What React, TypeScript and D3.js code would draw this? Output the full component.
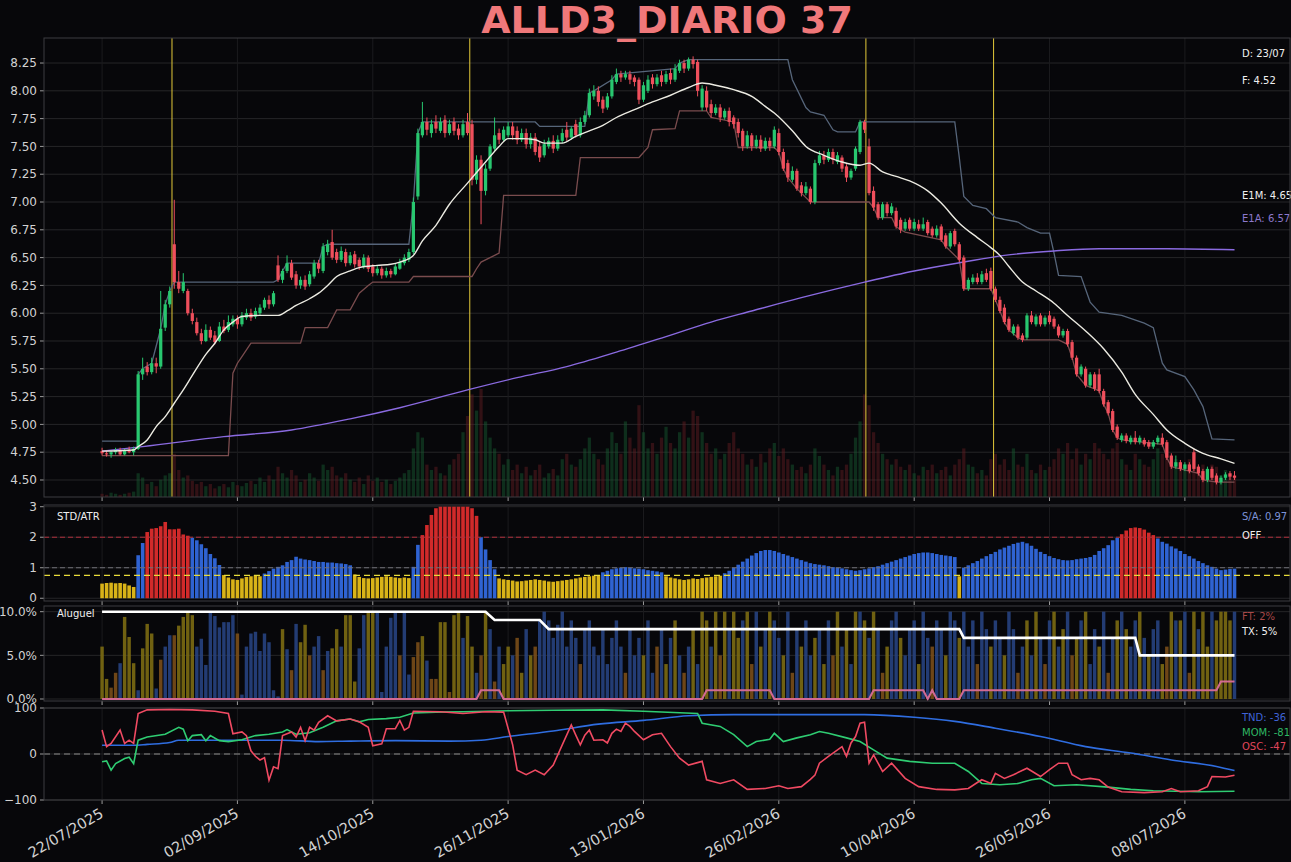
import React from "react";
import * as d3 from "d3";

const TITLE = "ALLD3_DIARIO 37";
const X_TICK_IDX = [0, 30, 60, 90, 120, 150, 180, 210, 240];
const X_TICK_LABELS = ["22/07/2025", "02/09/2025", "14/10/2025", "26/11/2025", "13/01/2026", "26/02/2026", "10/04/2026", "26/05/2026", "08/07/2026"];
const Y_MAIN_TICKS = [4.5, 4.75, 5.0, 5.25, 5.5, 5.75, 6.0, 6.25, 6.5, 6.75, 7.0, 7.25, 7.5, 7.75, 8.0, 8.25];
const Y_STD_TICKS = [0, 1, 2, 3];
const Y_ALU_TICKS = [0, 5, 10];
const Y_OSC_TICKS = [-100, 0, 100];

const OPEN = [
  4.76,4.74,4.73,4.75,4.77,4.73,4.76,4.75,4.78,5.45,
  5.52,5.47,5.55,5.52,5.87,6.08,6.62,6.28,6.20,6.20,
  6.00,5.92,5.82,5.75,5.85,5.80,5.75,5.88,5.85,5.90,
  5.95,5.90,5.96,6.00,5.97,6.00,6.05,6.12,6.08,6.43,
  6.30,6.38,6.45,6.35,6.25,6.30,6.26,6.33,6.45,6.38,
  6.55,6.64,6.55,6.48,6.55,6.45,6.53,6.48,6.42,6.50,
  6.42,6.36,6.40,6.34,6.38,6.35,6.40,6.45,6.48,6.55,
  7.05,7.60,7.72,7.62,7.72,7.64,7.74,7.62,7.72,7.66,
  7.60,7.72,7.70,7.20,7.38,7.10,7.30,7.48,7.62,7.56,
  7.60,7.68,7.64,7.56,7.62,7.52,7.58,7.50,7.42,7.50,
  7.55,7.48,7.55,7.65,7.58,7.70,7.60,7.72,7.78,7.95,
  8.00,7.92,7.85,7.95,8.08,8.15,8.12,8.15,8.12,8.10,
  7.92,8.00,8.12,8.06,8.14,8.08,8.16,8.10,8.18,8.25,
  8.20,8.28,8.26,7.85,8.00,7.88,7.80,7.85,7.76,7.82,
  7.76,7.72,7.64,7.50,7.60,7.50,7.56,7.48,7.55,7.50,
  7.62,7.45,7.35,7.20,7.28,7.15,7.08,7.12,7.00,7.35,
  7.42,7.38,7.45,7.36,7.40,7.32,7.22,7.30,7.45,7.72,
  7.50,7.10,6.98,6.86,6.98,6.90,6.92,6.84,6.76,6.84,
  6.76,6.80,6.76,6.82,6.76,6.70,6.78,6.70,6.60,6.74,
  6.62,6.50,6.22,6.28,6.32,6.28,6.36,6.38,6.22,6.12,
  6.05,5.95,5.82,5.88,5.80,5.78,5.98,5.90,5.98,5.90,
  5.98,5.95,5.88,5.80,5.84,5.74,5.60,5.45,5.50,5.35,
  5.45,5.45,5.30,5.20,5.12,4.98,4.86,4.90,4.84,4.88,
  4.84,4.86,4.84,4.80,4.84,4.88,4.84,4.72,4.62,4.66,
  4.60,4.64,4.75,4.62,4.58,4.50,4.60,4.54,4.48,4.52,
  4.56,4.54,
];
const HIGH = [
  4.79,4.77,4.76,4.79,4.79,4.78,4.80,4.80,5.48,5.60,
  5.56,5.60,5.60,6.20,6.12,6.24,7.02,6.38,6.36,6.22,
  6.04,5.96,5.86,5.90,5.88,5.84,5.92,5.94,5.98,5.98,
  5.98,6.01,6.04,6.04,6.05,6.08,6.14,6.16,6.20,6.52,
  6.40,6.52,6.48,6.38,6.33,6.34,6.38,6.48,6.48,6.63,
  6.66,6.75,6.58,6.60,6.58,6.55,6.56,6.50,6.53,6.52,
  6.44,6.43,6.42,6.41,6.40,6.45,6.49,6.53,6.58,7.04,
  7.66,7.90,7.76,7.74,7.78,7.76,7.78,7.74,7.76,7.70,
  7.74,7.80,7.74,7.42,7.42,7.34,7.52,7.76,7.66,7.68,
  7.72,7.72,7.68,7.66,7.66,7.62,7.62,7.54,7.56,7.58,
  7.60,7.60,7.66,7.72,7.68,7.74,7.76,7.82,8.02,8.05,
  8.04,7.95,7.98,8.14,8.20,8.18,8.18,8.18,8.14,8.12,
  8.08,8.14,8.15,8.15,8.18,8.18,8.20,8.24,8.28,8.28,
  8.30,8.31,8.28,8.05,8.04,7.92,7.88,7.88,7.84,7.85,
  7.78,7.75,7.66,7.64,7.62,7.60,7.60,7.58,7.58,7.68,
  7.66,7.48,7.38,7.32,7.30,7.18,7.18,7.14,7.38,7.46,
  7.46,7.48,7.48,7.45,7.42,7.34,7.30,7.50,7.74,7.74,
  7.57,7.14,7.00,7.00,7.00,6.99,6.95,6.86,6.85,6.86,
  6.85,6.84,6.86,6.84,6.78,6.79,6.80,6.72,6.74,6.76,
  6.64,6.52,6.32,6.35,6.36,6.38,6.40,6.41,6.24,6.15,
  6.08,5.97,5.90,5.90,5.82,6.00,6.02,5.99,6.00,5.98,
  6.02,5.97,5.90,5.86,5.86,5.76,5.62,5.54,5.52,5.47,
  5.47,5.50,5.32,5.22,5.14,5.00,4.92,4.92,4.90,4.94,
  4.90,4.88,4.86,4.86,4.90,4.92,4.86,4.74,4.72,4.68,
  4.66,4.66,4.78,4.64,4.60,4.62,4.62,4.56,4.54,4.57,
  4.58,4.58,
];
const LOW = [
  4.72,4.71,4.70,4.73,4.72,4.72,4.74,4.72,4.77,5.40,
  5.44,5.45,5.46,5.50,5.84,6.05,6.22,6.18,6.18,5.98,
  5.90,5.80,5.72,5.74,5.76,5.72,5.74,5.82,5.83,5.88,
  5.86,5.88,5.94,5.93,5.95,5.98,6.03,6.04,6.06,6.28,
  6.27,6.36,6.30,6.22,6.22,6.21,6.24,6.31,6.36,6.36,
  6.52,6.48,6.45,6.46,6.42,6.43,6.41,6.39,6.40,6.37,
  6.33,6.34,6.31,6.32,6.32,6.34,6.39,6.43,6.46,6.53,
  7.02,7.58,7.60,7.58,7.62,7.62,7.58,7.60,7.60,7.56,
  7.58,7.60,7.15,7.16,6.80,7.06,7.28,7.46,7.52,7.54,
  7.58,7.56,7.52,7.54,7.48,7.48,7.42,7.36,7.40,7.48,
  7.44,7.46,7.53,7.55,7.56,7.58,7.58,7.70,7.76,7.92,
  7.86,7.80,7.83,7.93,8.06,8.08,8.10,8.06,8.04,7.88,
  7.90,7.98,8.02,8.04,8.04,8.06,8.06,8.08,8.16,8.16,
  8.18,8.20,7.95,7.82,7.82,7.76,7.78,7.72,7.74,7.68,
  7.66,7.58,7.46,7.48,7.46,7.48,7.45,7.46,7.46,7.48,
  7.42,7.28,7.18,7.18,7.10,7.05,7.06,6.98,6.98,7.33,
  7.34,7.36,7.34,7.34,7.27,7.18,7.20,7.28,7.43,7.62,
  7.06,6.92,6.84,6.84,6.87,6.88,6.76,6.72,6.74,6.74,
  6.74,6.74,6.74,6.70,6.68,6.68,6.64,6.58,6.58,6.60,
  6.46,6.20,6.20,6.26,6.26,6.26,6.28,6.20,6.10,6.00,
  5.90,5.83,5.80,5.76,5.74,5.76,5.90,5.88,5.88,5.88,
  5.90,5.86,5.78,5.78,5.70,5.58,5.43,5.43,5.33,5.33,
  5.30,5.28,5.16,5.08,4.93,4.86,4.84,4.83,4.82,4.82,
  4.82,4.80,4.78,4.78,4.82,4.80,4.68,4.60,4.60,4.58,
  4.58,4.56,4.58,4.54,4.48,4.48,4.50,4.46,4.46,4.50,
  4.50,4.50,
];
const CLOSE = [
  4.74,4.73,4.75,4.77,4.73,4.77,4.75,4.78,5.45,5.50,
  5.47,5.55,5.52,5.86,6.08,6.20,6.28,6.22,6.28,6.00,
  5.93,5.82,5.75,5.85,5.78,5.74,5.88,5.84,5.92,5.95,
  5.90,5.98,6.00,5.96,6.02,6.05,6.12,6.08,6.18,6.30,
  6.38,6.45,6.32,6.25,6.30,6.24,6.35,6.45,6.40,6.60,
  6.62,6.50,6.48,6.56,6.45,6.52,6.44,6.42,6.50,6.40,
  6.36,6.40,6.34,6.38,6.35,6.42,6.46,6.50,6.55,7.00,
  7.62,7.72,7.65,7.70,7.66,7.72,7.62,7.70,7.64,7.60,
  7.70,7.62,7.20,7.38,7.10,7.30,7.50,7.60,7.56,7.65,
  7.68,7.60,7.56,7.62,7.52,7.58,7.45,7.40,7.52,7.55,
  7.48,7.56,7.62,7.58,7.66,7.60,7.72,7.78,7.98,8.00,
  7.90,7.84,7.95,8.10,8.15,8.12,8.15,8.10,8.08,7.92,
  8.05,8.10,8.06,8.12,8.08,8.15,8.10,8.20,8.25,8.20,
  8.28,8.24,8.00,8.02,7.85,7.80,7.85,7.76,7.82,7.72,
  7.70,7.62,7.50,7.60,7.50,7.56,7.48,7.55,7.50,7.65,
  7.45,7.30,7.22,7.28,7.12,7.08,7.14,7.00,7.35,7.42,
  7.38,7.45,7.38,7.42,7.30,7.22,7.28,7.48,7.72,7.65,
  7.08,6.95,6.86,6.98,6.90,6.96,6.78,6.75,6.82,6.76,
  6.82,6.76,6.80,6.72,6.70,6.76,6.66,6.60,6.72,6.62,
  6.48,6.22,6.30,6.32,6.28,6.35,6.30,6.22,6.12,6.02,
  5.92,5.85,5.88,5.78,5.76,5.98,5.92,5.97,5.90,5.96,
  5.92,5.88,5.80,5.84,5.72,5.60,5.45,5.52,5.35,5.45,
  5.32,5.30,5.18,5.10,4.95,4.88,4.90,4.85,4.88,4.84,
  4.88,4.82,4.80,4.84,4.88,4.82,4.70,4.62,4.66,4.60,
  4.64,4.58,4.60,4.56,4.50,4.60,4.52,4.48,4.52,4.55,
  4.53,4.52,
];
const VOLUME = [
  3,2,4,3,2,3,4,5,22,18,
  12,14,10,16,20,22,40,25,18,20,
  15,12,14,10,12,8,10,12,9,14,
  11,10,13,15,12,18,14,20,16,28,
  22,18,25,20,14,16,22,18,15,30,
  25,28,20,18,22,16,14,18,12,20,
  15,18,14,16,12,15,18,22,25,45,
  60,55,30,25,28,22,20,30,35,40,
  60,75,95,80,100,70,55,45,40,30,
  35,25,30,22,28,20,25,30,18,22,
  26,20,35,40,30,28,35,45,55,40,
  35,30,45,60,50,40,70,55,45,85,
  60,45,50,40,55,65,50,45,60,70,
  55,80,75,60,50,40,45,35,40,50,
  60,45,40,30,35,28,40,32,45,50,
  38,45,35,30,25,28,22,30,45,38,
  30,25,20,28,25,30,40,55,70,95,
  85,60,50,40,35,30,35,28,25,30,
  22,20,28,25,30,22,25,28,20,30,
  35,45,30,28,22,25,20,35,40,30,
  35,25,45,30,28,40,25,22,30,25,
  28,35,45,40,50,35,45,30,40,35,
  50,45,40,35,45,50,35,30,25,40,
  35,30,28,35,45,40,38,30,35,25,
  30,35,40,28,30,25,30,28,20,25,
  22,18,
];

// indicator lines on the price panel: [index, value]
const E1M = [[0,4.76],[7,4.77],[8,4.80],[10,4.86],[12,4.98],[14,5.07],[16,5.19],[18,5.31],[20,5.44],[23,5.63],[25,5.73],[27,5.85],[29,5.92],[31,5.97],[35,5.98],[39,5.98],[41,6.02],[43,6.07],[46,6.13],[48,6.18],[50,6.25],[52,6.33],[55,6.38],[57,6.41],[61,6.43],[64,6.44],[66,6.46],[69,6.52],[71,6.65],[74,6.79],[77,6.98],[81,7.17],[85,7.36],[88,7.50],[90,7.57],[93,7.57],[96,7.56],[98,7.53],[102,7.53],[105,7.59],[108,7.64],[111,7.69],[114,7.76],[118,7.83],[122,7.90],[126,7.96],[130,8.03],[133,8.07],[136,8.05],[140,8.01],[144,7.95],[147,7.86],[149,7.80],[153,7.64],[156,7.50],[160,7.42],[164,7.36],[168,7.33],[170,7.35],[173,7.27],[176,7.23],[179,7.19],[183,7.10],[186,6.99],[190,6.81],[194,6.68],[197,6.59],[199,6.52],[201,6.42],[204,6.28],[207,6.20],[211,6.09],[214,5.98],[218,5.84],[222,5.68],[226,5.47],[229,5.27],[233,5.09],[236,4.95],[240,4.83],[244,4.74],[248,4.69],[251,4.65]];
const E1A = [[0,4.76],[9,4.80],[27,4.89],[42,4.95],[55,5.05],[66,5.15],[81,5.31],[92,5.42],[103,5.52],[114,5.65],[125,5.79],[135,5.92],[144,6.02],[155,6.14],[169,6.28],[180,6.38],[191,6.46],[200,6.52],[211,6.56],[221,6.58],[236,6.58],[251,6.57]];
const UPPER = [[0,4.85],[8,4.85],[8,5.45],[9,5.50],[11,5.55],[13,5.86],[14,6.08],[15,6.20],[16,6.28],[38,6.28],[39,6.30],[40,6.38],[41,6.45],[48,6.45],[49,6.60],[50,6.62],[68,6.62],[69,7.00],[70,7.62],[71,7.72],[96,7.72],[97,7.68],[107,7.68],[108,7.98],[109,8.00],[113,8.10],[114,8.15],[127,8.20],[128,8.25],[130,8.28],[152,8.28],[153,8.10],[156,7.85],[157,7.81],[160,7.78],[162,7.65],[163,7.63],[167,7.63],[168,7.72],[189,7.72],[190,7.40],[191,7.05],[193,6.97],[196,6.94],[198,6.86],[203,6.82],[205,6.77],[208,6.72],[210,6.72],[211,6.54],[212,6.34],[217,6.33],[219,6.10],[221,6.01],[226,5.98],[231,5.91],[233,5.87],[235,5.55],[236,5.49],[240,5.43],[242,5.31],[244,5.16],[246,4.87],[251,4.86]];
const LOWER = [[0,4.72],[28,4.72],[29,5.46],[30,5.55],[31,5.61],[33,5.73],[44,5.73],[45,5.87],[50,5.87],[52,6.03],[55,6.03],[57,6.18],[59,6.25],[60,6.28],[68,6.28],[69,6.33],[82,6.33],[83,6.40],[84,6.46],[86,6.50],[88,6.54],[89,7.06],[105,7.06],[106,7.40],[119,7.40],[121,7.49],[122,7.65],[127,7.66],[128,7.82],[134,7.82],[135,7.76],[140,7.72],[141,7.49],[149,7.49],[150,7.45],[151,7.30],[152,7.22],[154,7.12],[155,7.08],[157,7.00],[170,7.00],[171,6.95],[172,6.86],[175,6.86],[176,6.78],[177,6.75],[178,6.73],[186,6.66],[187,6.60],[190,6.48],[191,6.22],[197,6.22],[198,6.12],[199,6.02],[200,5.92],[201,5.85],[203,5.78],[204,5.76],[212,5.76],[214,5.72],[215,5.60],[216,5.45],[218,5.35],[220,5.32],[221,5.30],[222,5.18],[223,5.10],[224,4.95],[225,4.88],[226,4.86],[235,4.82],[236,4.70],[237,4.62],[239,4.60],[241,4.58],[243,4.56],[244,4.50],[247,4.48],[251,4.48]];
const SIGNAL_LINES = [15.5, 81.5, 169.3, 197.6];

// STD/ATR panel
const STD_ATR = [
  0.48,0.50,0.51,0.49,0.50,0.48,0.42,0.37,1.41,1.81,
  2.17,2.28,2.30,2.36,2.50,2.26,2.26,2.28,2.09,2.05,
  1.98,1.90,1.77,1.64,1.45,1.31,1.09,0.76,0.68,0.62,
  0.60,0.65,0.70,0.72,0.75,0.72,0.81,0.89,0.97,1.03,
  1.08,1.19,1.25,1.36,1.30,1.27,1.25,1.22,1.19,1.19,
  1.17,1.17,1.15,1.14,1.12,1.08,0.78,0.70,0.66,0.65,
  0.66,0.68,0.70,0.72,0.70,0.68,0.66,0.68,0.66,1.03,
  1.75,2.07,2.40,2.73,2.95,3.00,3.00,3.00,3.00,3.00,
  3.00,3.00,2.95,2.70,2.00,1.60,1.25,0.95,0.65,0.62,
  0.60,0.58,0.55,0.56,0.58,0.60,0.62,0.60,0.58,0.55,
  0.54,0.56,0.58,0.60,0.62,0.65,0.68,0.70,0.72,0.74,
  0.76,0.85,0.90,0.95,0.98,1.00,1.02,1.00,0.98,0.97,
  0.95,0.92,0.90,0.88,0.85,0.72,0.68,0.65,0.62,0.60,
  0.62,0.65,0.63,0.66,0.68,0.70,0.72,0.74,0.82,0.90,
  1.00,1.10,1.20,1.30,1.40,1.48,1.55,1.58,1.58,1.55,
  1.50,1.45,1.40,1.35,1.30,1.25,1.20,1.15,1.12,1.10,
  1.08,1.05,1.02,1.00,0.98,0.95,0.92,0.90,0.92,0.95,
  0.98,1.02,1.05,1.10,1.15,1.20,1.25,1.30,1.35,1.40,
  1.45,1.48,1.50,1.50,1.48,1.45,1.42,1.40,1.38,1.35,
  0.72,1.00,1.08,1.15,1.22,1.30,1.38,1.45,1.52,1.60,
  1.66,1.72,1.78,1.82,1.85,1.80,1.72,1.62,1.52,1.45,
  1.38,1.32,1.28,1.25,1.24,1.25,1.28,1.30,1.32,1.35,
  1.42,1.55,1.64,1.74,1.90,1.98,2.10,2.22,2.30,2.32,
  2.30,2.25,2.15,2.07,1.96,1.85,1.79,1.70,1.63,1.55,
  1.45,1.38,1.30,1.22,1.15,1.08,1.03,0.97,0.92,0.94,
  0.96,0.97,
];
// regime runs: [start index, state]
const STD_STATE_RUNS = [[0,"Y"],[8,"B"],[10,"R"],[20,"B"],[27,"Y"],[36,"B"],[56,"Y"],[69,"B"],[71,"R"],[84,"B"],[88,"Y"],[111,"B"],[125,"Y"],[138,"B"],[190,"Y"],[191,"B"],[226,"R"],[234,"B"]];
const STD_LEVELS = { high: 2.0, mid: 1.0, low: 0.75 };

// Aluguel panel
const ALUGUEL = [
  6.0,2.3,1.3,3.0,4.1,9.4,7.1,4.1,1.0,5.8,
  8.6,7.5,1.2,4.5,6.0,7.3,7.3,8.4,9.4,10.0,
  9.6,6.0,6.9,3.9,10.0,9.5,8.2,8.8,8.8,9.6,
  7.5,0.5,6.0,7.5,7.7,5.5,7.5,6.5,1.0,0.3,
  8.0,5.7,3.3,8.6,6.5,8.5,5.0,6.0,7.2,3.3,
  5.5,5.8,8.0,6.0,9.6,9.6,2.0,5.8,9.6,10.0,
  10.0,10.0,0.8,6.0,9.3,10.0,5.0,10.0,2.8,4.8,
  6.5,7.2,4.4,2.3,2.3,8.8,8.8,0.8,9.6,10.0,
  7.0,9.5,6.0,3.0,5.0,10.0,8.0,2.0,6.0,4.0,
  6.0,5.0,7.0,3.0,8.0,5.0,6.0,9.0,10.0,9.0,
  7.0,8.5,10.0,6.0,9.0,7.0,4.0,8.0,9.0,6.0,
  5.0,8.0,4.0,7.0,9.0,6.0,3.0,8.0,5.0,7.0,
  5.0,9.0,3.0,6.0,8.0,4.0,7.0,9.0,5.0,3.0,
  6.0,8.0,4.0,10.0,9.0,6.0,10.0,5.0,10.0,8.0,
  10.0,7.0,9.0,10.0,4.0,10.0,6.0,8.0,10.0,9.0,
  7.0,5.0,10.0,3.0,8.0,6.0,9.0,5.0,7.0,8.0,
  4.0,9.0,5.0,10.0,6.0,8.0,4.0,10.0,10.0,9.0,
  7.0,10.0,8.0,3.0,6.0,9.0,10.0,7.0,5.0,8.0,
  9.0,4.0,10.0,7.0,6.0,9.0,8.0,5.0,10.0,9.0,
  7.0,10.0,6.0,9.0,4.0,10.0,8.0,6.0,9.0,7.0,
  5.0,10.0,8.0,3.0,6.0,9.0,5.0,10.0,7.0,4.0,
  9.0,10.0,6.0,8.0,10.0,5.0,7.0,9.0,10.0,4.0,
  8.0,6.0,10.0,3.0,7.0,9.0,10.0,8.0,6.0,9.0,
  10.0,7.0,5.0,8.0,9.0,4.0,6.0,10.0,9.0,9.0,
  10.0,3.0,10.0,8.0,10.0,6.0,10.0,9.0,10.0,10.0,
  9.0,10.0,
];
const ALUGUEL_KIND = [
  "YYOOBYYYBY","YYBOBBOYYY","YBBBBBBBBB","OBBBBBBBBB","YBOBYYOBBO",
  "BYYBYYYBBY","YBBBBBOBBO","OYBOOYYOYY","BYYBOYBOBY","YBOYBYOBBB",
  "BBBBBBOBBB","BBBBBBOBBB","YBBOBYBYBO","BYBYYBYOYB","YYBYOBYBYB",
  "BYBOBYBBYB","YBOYBYBYBY","BYBOYBBYBB","BYBBOBBYBB","YBBBOBBYBB",
  "YBBOBYBYBO","BYBYBOYBYB","BYBOBYBYBB","YBYBBYOYBY","BOYBYYBYYY",
  "YB",
].join("");
const TX_RATE = [[0,10],[85,10],[87,9.05],[97,9.05],[99,8.0],[190,8.0],[191,7.0],[229,7.0],[230,5.0],[251,5.0]];
const FT_RATE = [[0,0],[83,0],[84,1],[88,1],[89,0],[133,0],[134,1],[148,1],[149,0],[170,0],[171,1],[182,1],[183,0],[184,1],[185,0],[190,0],[191,1],[247,1],[248,2],[251,2]];

// oscillator panel
const TND = [[0,19],[7,19],[10,21],[15,25],[17,30],[30,30],[40,30],[48,27],[55,28],[65,29],[77,28],[84,30],[90,38],[100,50],[110,65],[120,73],[130,83],[140,85.5],[169,85.5],[180,80],[189,71],[198,56],[208,38],[218,16],[228,2],[237,-13],[247,-27],[251,-36]];
const MOM = [[0,-17],[1,-15],[2,-35],[3,-21],[5,-10],[6,-7],[7,-21],[8,30],[10,37],[14,43],[17,58],[18,54],[19,29],[20,40],[22,42],[23,29],[24,40],[26,29],[28,27],[31,31],[34,40],[37,43],[40,48],[41,53],[43,43],[46,46],[49,58],[52,72],[55,76],[57,70],[59,75],[63,77],[66,80],[69,89],[74,91],[80,92],[90,94],[100,95],[111,96],[120,93],[132,88],[133,67],[137,60],[140,42],[143,16],[145,27],[148,32],[149,45],[151,27],[154,35],[157,42],[159,49],[161,45],[165,35],[168,27],[171,9],[174,-9],[179,-16],[184,-20],[189,-20],[192,-38],[195,-64],[199,-67],[203,-64],[206,-56],[208,-53],[211,-69],[216,-67],[223,-72],[228,-77],[233,-80],[243,-82],[251,-81]];
const OSC = [[0,52],[1,16],[2,23],[4,52],[5,23],[6,30],[7,23],[8,88],[10,96],[15,97],[20,96],[25,93],[28,88],[29,44],[31,48],[32,40],[33,7],[34,-5],[35,-13],[36,-8],[37,-57],[38,-28],[39,-32],[40,40],[42,48],[43,37],[44,58],[45,29],[46,58],[47,52],[48,69],[50,83],[52,72],[55,76],[57,70],[59,58],[60,18],[62,22],[63,55],[65,55],[66,73],[67,52],[68,58],[69,93],[75,92],[80,88],[85,92],[89,91],[91,20],[92,-35],[94,-45],[96,-35],[98,-45],[100,-24],[102,20],[104,63],[105,41],[106,20],[107,41],[108,52],[109,30],[111,31],[112,24],[113,45],[114,54],[115,49],[116,67],[117,60],[118,49],[120,31],[122,42],[124,45],[126,16],[128,-9],[130,-24],[133,-16],[134,-56],[137,-64],[140,-56],[143,-77],[147,-75],[150,-69],[152,-75],[155,-71],[157,-55],[158,-46],[159,-20],[161,-5],[164,16],[165,-5],[166,24],[167,38],[168,67],[169,69],[170,-20],[171,-2],[173,-38],[175,-20],[178,-53],[181,-71],[185,-77],[189,-78],[192,-75],[194,-62],[195,-56],[197,-64],[198,-42],[200,-53],[202,-45],[205,-31],[208,-49],[210,-34],[212,-20],[214,-20],[215,-45],[217,-56],[219,-53],[221,-56],[223,-72],[226,-82],[231,-84],[235,-82],[237,-75],[239,-82],[243,-80],[245,-71],[246,-49],[249,-50],[251,-46]];

const LABELS_MAIN = [["D: 23/07", "#f0f0f0"], ["F: 4.52", "#f0f0f0"]];
const LABELS_EMA = [["E1M: 4.65", "#f0f0f0"], ["E1A: 6.57", "#8c78cc"]];
const LABELS_STD = [["S/A: 0.97", "#7d93d8"], ["OFF", "#f0f0f0"]];
const LABELS_ALU = [["FT: 2%", "#a84848"], ["TX: 5%", "#f0f0f0"]];
const LABELS_OSC = [["TND: -36", "#3f63d6"], ["MOM: -81", "#2fb864"], ["OSC: -47", "#e0455a"]];

const BG = "#07070a";
const GRID = "#262628";
const SPINE = "#3d3d40";
const TICKTXT = "#d2d2d2";
const FONT = "'DejaVu Sans', sans-serif";
const C_UP = "#28c76f";
const C_DN = "#ef4f5c";
const STATE_COLOR = { Y: "#d9b318", B: "#2f63d2", R: "#d12a2a" };
const ALU_COLOR = { Y: "#7c6c12", O: "#7a4e18", B: "#27427f" };

export default function App() {
  const N = CLOSE.length;
  const PL = 44, PR = 1290;
  const P = {
    main: { top: 38, bottom: 497 },
    std: { top: 505, bottom: 601 },
    alu: { top: 606, bottom: 701 },
    osc: { top: 708, bottom: 800 },
  };
  const x = d3.scaleLinear().domain([-12.87, 263.3]).range([PL, PR]);
  const yM = d3.scaleLinear().domain([4.347, 8.475]).range([P.main.bottom, P.main.top]);
  const yV = d3.scaleLinear().domain([0, 100]).range([P.main.bottom, P.main.bottom - 108]);
  const yS = d3.scaleLinear().domain([-0.09, 3.056]).range([P.std.bottom, P.std.top]);
  const yA = d3.scaleLinear().domain([-0.23, 10.65]).range([P.alu.bottom, P.alu.top]);
  const yO = d3.scaleLinear().domain([-100, 100]).range([P.osc.bottom, P.osc.top]);
  const step = x(1) - x(0);
  const bw = step * 0.72;

  const idx = d3.range(N);
  const mkLine = (pts, y, curve) =>
    d3.line().x((d) => x(d[0])).y((d) => y(d[1])).curve(curve || d3.curveLinear)(pts);

  const stateAt = (i) => {
    let s = "Y";
    for (const r of STD_STATE_RUNS) if (i >= r[0]) s = r[1];
    return s;
  };

  const panelFrame = (p, key, yTicks, y, fmt) => (
    <g key={key}>
      {yTicks.map((t) => (
        <line key={"g" + t} x1={PL} x2={PR} y1={y(t)} y2={y(t)} stroke={GRID} strokeWidth={1} />
      ))}
      {X_TICK_IDX.map((t) => (
        <line key={"v" + t} x1={x(t)} x2={x(t)} y1={p.top} y2={p.bottom} stroke="#1b1b1e" strokeWidth={1} />
      ))}
      {yTicks.map((t) => (
        <g key={"t" + t}>
          <line x1={PL - 4} x2={PL} y1={y(t)} y2={y(t)} stroke="#9a9a9a" />
          <text x={PL - 7} y={y(t)} dy="0.35em" textAnchor="end" fill={TICKTXT} fontSize={12} fontFamily={FONT}>
            {fmt(t)}
          </text>
        </g>
      ))}
      {X_TICK_IDX.map((t) => (
        <line key={"xt" + t} x1={x(t)} x2={x(t)} y1={p.bottom} y2={p.bottom + 4} stroke="#9a9a9a" />
      ))}
    </g>
  );

  const rightLabels = (list, y0, dy) =>
    list.map((l, k) => (
      <text key={l[0]} x={1242} y={y0 + k * dy} fill={l[1]} fontSize={10} fontFamily={FONT}>
        {l[0]}
      </text>
    ));

  return (
    <svg width={1291} height={862} style={{ position: "fixed", left: 0, top: 0, display: "block", background: BG }}>
      <defs>
        {Object.entries(P).map(([k, p]) => (
          <clipPath id={"clip-" + k} key={k}>
            <rect x={PL} y={p.top} width={PR - PL} height={p.bottom - p.top} />
          </clipPath>
        ))}
      </defs>
      <rect x={0} y={0} width={1291} height={862} fill={BG} />

      <text x={667} y={33} textAnchor="middle" fill="#f0787a" fontSize={38} fontWeight="bold" fontFamily={FONT}>
        {TITLE}
      </text>

      {/* ===== main price panel ===== */}
      {panelFrame(P.main, "fm", Y_MAIN_TICKS, yM, (t) => t.toFixed(2))}
      <g clipPath="url(#clip-main)">
        {idx.map((i) => (
          <rect key={"v" + i} x={x(i) - bw / 2} y={yV(VOLUME[i])} width={bw} height={yV(0) - yV(VOLUME[i])}
            fill={CLOSE[i] >= OPEN[i] ? "#15552e" : "#5e1b20"} opacity={0.5} />
        ))}
        {SIGNAL_LINES.map((s) => (
          <line key={"s" + s} x1={x(s)} x2={x(s)} y1={P.main.top} y2={P.main.bottom} stroke="#e3c93a" strokeWidth={1} />
        ))}
        <path d={mkLine(LOWER, yM)} fill="none" stroke="#7a4c4e" strokeWidth={1.3} />
        <path d={mkLine(UPPER, yM)} fill="none" stroke="#56657a" strokeWidth={1.3} />
        <path d={mkLine(E1A, yM, d3.curveMonotoneX)} fill="none" stroke="#8a6ae0" strokeWidth={1.4} />
        {idx.map((i) => {
          const up = CLOSE[i] >= OPEN[i];
          const c = up ? C_UP : C_DN;
          const yt = yM(Math.max(OPEN[i], CLOSE[i]));
          const yb = yM(Math.min(OPEN[i], CLOSE[i]));
          return (
            <g key={"c" + i}>
              <line x1={x(i)} x2={x(i)} y1={yM(HIGH[i])} y2={yM(LOW[i])} stroke={c} strokeWidth={1} />
              <rect x={x(i) - bw / 2} y={yt} width={bw} height={Math.max(1, yb - yt)} fill={c} />
            </g>
          );
        })}
        <path d={mkLine(E1M, yM, d3.curveMonotoneX)} fill="none" stroke="#ecebe2" strokeWidth={1.4} />
      </g>
      {rightLabels(LABELS_MAIN, 57, 27)}
      {rightLabels(LABELS_EMA, 199, 23)}

      {/* ===== STD/ATR panel ===== */}
      {panelFrame(P.std, "fs", Y_STD_TICKS, yS, (t) => String(t))}
      <g clipPath="url(#clip-std)">
        {idx.map((i) => (
          <rect key={"b" + i} x={x(i) - step * 0.4} y={yS(STD_ATR[i])} width={step * 0.8}
            height={yS(0) - yS(STD_ATR[i])} fill={STATE_COLOR[stateAt(i)]} />
        ))}
        <line x1={PL} x2={PR} y1={yS(STD_LEVELS.high)} y2={yS(STD_LEVELS.high)} stroke="#b2303c" strokeDasharray="5,3" strokeWidth={1} />
        <line x1={PL} x2={PR} y1={yS(STD_LEVELS.mid)} y2={yS(STD_LEVELS.mid)} stroke="#707078" strokeDasharray="5,3" strokeWidth={1} />
        <line x1={PL} x2={PR} y1={yS(STD_LEVELS.low)} y2={yS(STD_LEVELS.low)} stroke="#e8dc3a" strokeDasharray="6,4" strokeWidth={1.3} />
      </g>
      <text x={57} y={520} fill="#f0f0f0" fontSize={10} fontFamily={FONT}>STD/ATR</text>
      {rightLabels(LABELS_STD, 520, 19)}

      {/* ===== Aluguel panel ===== */}
      {panelFrame(P.alu, "fa", Y_ALU_TICKS, yA, (t) => t.toFixed(1) + "%")}
      <g clipPath="url(#clip-alu)">
        {idx.map((i) => (
          <rect key={"a" + i} x={x(i) - step * 0.38} y={yA(ALUGUEL[i])} width={step * 0.76}
            height={yA(0) - yA(ALUGUEL[i])} fill={ALU_COLOR[ALUGUEL_KIND[i]]} opacity={0.9} />
        ))}
        <path d={mkLine(FT_RATE, yA)} fill="none" stroke="#d26a92" strokeWidth={2} />
        <path d={mkLine(TX_RATE, yA)} fill="none" stroke="#ffffff" strokeWidth={2.6} />
      </g>
      <text x={57} y={617} fill="#f0f0f0" fontSize={10} fontFamily={FONT}>Aluguel</text>
      {rightLabels(LABELS_ALU, 620, 15)}

      {/* ===== oscillator panel ===== */}
      {panelFrame(P.osc, "fo", Y_OSC_TICKS, yO, (t) => (t < 0 ? "\u2212" + Math.abs(t) : String(t)))}
      <g clipPath="url(#clip-osc)">
        <line x1={PL} x2={PR} y1={yO(0)} y2={yO(0)} stroke="#8a8a8a" strokeDasharray="6,4" strokeWidth={1} />
        <path d={mkLine(TND, yO, d3.curveMonotoneX)} fill="none" stroke="#2f6de0" strokeWidth={1.6} />
        <path d={mkLine(MOM, yO)} fill="none" stroke="#2fcc72" strokeWidth={1.6} />
        <path d={mkLine(OSC, yO)} fill="none" stroke="#f04a62" strokeWidth={1.6} />
      </g>
      {rightLabels(LABELS_OSC, 721, 14.5)}

      {/* spines */}
      {Object.entries(P).map(([k, p]) => (
        <rect key={"sp" + k} x={PL} y={p.top} width={PR - PL} height={p.bottom - p.top} fill="none" stroke={SPINE} strokeWidth={1} />
      ))}

      {/* x tick labels */}
      {X_TICK_IDX.map((t, k) => (
        <text key={"xl" + t} transform={`translate(${x(t) - 3},${P.osc.bottom + 7}) rotate(-30)`} textAnchor="end"
          dy="0.75em" fill={TICKTXT} fontSize={14.5} fontFamily={FONT}>
          {X_TICK_LABELS[k]}
        </text>
      ))}
    </svg>
  );
}
